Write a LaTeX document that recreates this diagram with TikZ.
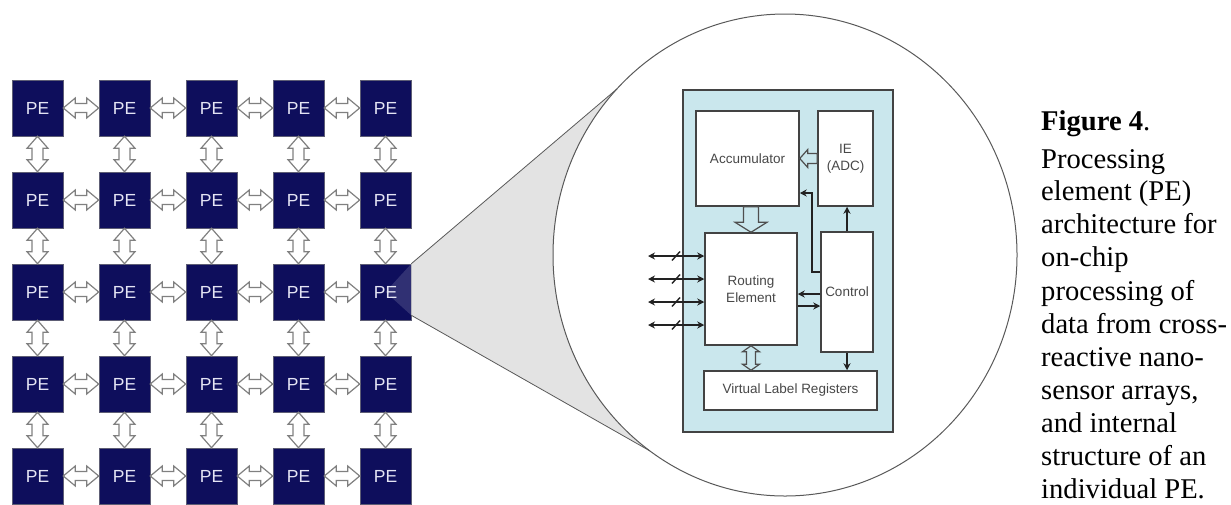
\documentclass[tikz,border=0pt]{standalone}
\usepackage{fontspec}
\setmainfont{Liberation Serif}
\newfontfamily\arialf{Liberation Sans}
\usetikzlibrary{calc,arrows.meta}
\definecolor{navy}{RGB}{14,14,92}
\definecolor{pelabel}{RGB}{228,228,244}
\definecolor{arrgray}{RGB}{128,128,128}
\definecolor{panelblue}{RGB}{202,231,237}
\definecolor{conegray}{RGB}{227,227,227}
\definecolor{inktext}{RGB}{72,72,72}
\definecolor{ink}{RGB}{34,34,34}
\tikzset{
  pe/.style={draw=arrgray!70!navy, line width=0.6pt, fill=navy, text=pelabel,
    minimum width=51pt, minimum height=56pt, inner sep=0pt,
    font=\arialf\fontsize{17.5pt}{17.5pt}\selectfont},
  hollow/.style={draw=arrgray, fill=white, line width=1.2pt, line join=miter},
  hollowin/.style={draw=ink!80, line width=1.2pt, line join=miter},
  panel/.style={draw=ink!85, line width=1.5pt, fill=panelblue, inner sep=0pt},
  inbox/.style={draw=ink!85, line width=1.5pt, fill=white, inner sep=0pt,
    text=inktext, align=center,
    font=\arialf\fontsize{13.5pt}{17.5pt}\selectfont},
  blk/.style={draw=ink, line width=1.7pt, -{Stealth[length=7pt,width=7pt]}},
  blk2/.style={draw=ink, line width=1.7pt, {Stealth[length=7pt,width=7pt]}-{Stealth[length=7pt,width=7pt]}},
  slashmark/.style={draw=ink, line width=1.4pt},
  capline/.style={anchor=base west, inner sep=0pt,
    font=\fontsize{28.6pt}{33pt}\selectfont}
}
% horizontal hollow double arrow: #1 left end, #2 right end, #3 head length, #4 head half width, #5 shaft half width
\newcommand\hdbl[6]{%
  \path[#6] let \p1=(#1), \p2=(#2) in (\x1,\y1) -- (\x1+#3,\y1+#4) -- (\x1+#3,\y1+#5)
   -- (\x2-#3,\y1+#5) -- (\x2-#3,\y1+#4) -- (\x2,\y1) -- (\x2-#3,\y1-#4) -- (\x2-#3,\y1-#5)
   -- (\x1+#3,\y1-#5) -- (\x1+#3,\y1-#4) -- cycle;}
% vertical hollow double arrow: #1 top end, #2 bottom end
\newcommand\vdbl[6]{%
  \path[#6] let \p1=(#1), \p2=(#2) in (\x1,\y1) -- (\x1+#4,\y1-#3) -- (\x1+#5,\y1-#3)
   -- (\x1+#5,\y2+#3) -- (\x1+#4,\y2+#3) -- (\x1,\y2) -- (\x1-#4,\y2+#3) -- (\x1-#5,\y2+#3)
   -- (\x1-#5,\y1-#3) -- (\x1-#4,\y1-#3) -- cycle;}
% horizontal hollow single arrow pointing left: #1 tail (right), #2 tip (left)
\newcommand\hsgl[6]{%
  \path[#6] let \p1=(#1), \p2=(#2) in (\x2,\y2) -- (\x2+#3,\y2+#4) -- (\x2+#3,\y2+#5)
   -- (\x1,\y2+#5) -- (\x1,\y2-#5) -- (\x2+#3,\y2-#5) -- (\x2+#3,\y2-#4) -- cycle;}
% vertical hollow single arrow pointing down: #1 tail (top), #2 tip (bottom)
\newcommand\vsgl[6]{%
  \path[#6] let \p1=(#1), \p2=(#2) in (\x2,\y2) -- (\x2+#4,\y2+#3) -- (\x2+#5,\y2+#3)
   -- (\x2+#5,\y1) -- (\x2-#5,\y1) -- (\x2-#5,\y2+#3) -- (\x2-#4,\y2+#3) -- cycle;}

\begin{document}
\begin{tikzpicture}[x=1pt,y=-1pt]
\useasboundingbox (0,0) rectangle (1231,504);

% ---------- PE grid ----------
\foreach \r in {1,...,5} {
  \foreach \c in {1,...,5} {
    \pgfmathsetmacro\cx{37.5+87*(\c-1)}
    \pgfmathsetmacro\cy{108+92*(\r-1)}
    \node[pe] (p\r\c) at (\cx,\cy) {PE};
  }
}

% ---------- magnifier cone ----------
\coordinate (ctop) at (617,88.9);
\coordinate (cbot) at (649.9,450.9);
\coordinate (apexT) at (p35.north east);
\coordinate (apexB) at ($(p35.south east)+(0,-5)$);
\fill[conegray] (apexT) -- (ctop) arc[start angle=136.4, end angle=234.4, x radius=232pt, y radius=241pt]
   -- (apexB) -- cycle;
\fill[white, opacity=0.14] (p35.center) -- (apexT) -- (apexB) -- cycle;
\draw[black!65, line width=0.8pt] (apexT) -- (ctop);
\draw[black!65, line width=0.8pt] (apexB) -- (cbot);
\draw[black!65, line width=1pt] (785,255) ellipse [x radius=232pt, y radius=241pt];

% ---------- grid links ----------
\foreach \r in {1,...,5} {
  \foreach \c in {1,...,4} {
    \pgfmathtruncatemacro\cn{\c+1}
    \hdbl{p\r\c.east}{p\r\cn.west}{12pt}{10pt}{4.5pt}{hollow}
  }
}
\foreach \r in {1,...,4} {
  \foreach \c in {1,...,5} {
    \pgfmathtruncatemacro\rn{\r+1}
    \vdbl{p\r\c.south}{p\rn\c.north}{12pt}{10.5pt}{5.5pt}{hollow}
  }
}

% ---------- PE internal structure ----------
\node[panel, minimum width=210pt, minimum height=342pt] (bg) at (788,261) {};
\node[inbox, minimum width=103pt, minimum height=95pt] (acc) at (747.5,158.5) {Accumulator};
\node[inbox, minimum width=55pt, minimum height=95pt] (ie) at (845.5,158.5) {IE\\(ADC)};
\node[inbox, minimum width=92pt, minimum height=112pt] (rout) at (751,289) {Routing\\Element};
\node[inbox, minimum width=52pt, minimum height=120pt] (ctrl) at (847,292) {Control};
\node[inbox, minimum width=173pt, minimum height=39pt] (vlr) at (790.5,390.5) {Virtual Label Registers};

% hollow arrows inside
\hsgl{ie.west}{acc.east}{8pt}{9pt}{5pt}{hollowin}
\vsgl{acc.south -| rout.north}{rout.north}{10pt}{16pt}{7.5pt}{hollowin}
\vdbl{rout.south}{rout.south |- vlr.north}{6pt}{8.5pt}{4.5pt}{hollowin}

% black arrows
\draw[blk] (ctrl.north) -- (ctrl.north |- ie.south);
\draw[blk] (ctrl.south) -- (ctrl.south |- vlr.north);
\coordinate (cl1) at ($(ctrl.west)+(0,2)$);
\coordinate (cl2) at ($(ctrl.west)+(0,14)$);
\draw[blk] (cl1) -- (cl1 -| rout.east);
\draw[blk] (cl2 -| rout.east) -- (cl2);
\coordinate (cfb) at ($(ctrl.west)+(0,-20)$);
\coordinate (bend) at (812,193);
\draw[blk] (cfb) -| (bend) -- (bend -| acc.east);

% external ports
\foreach \i/\yy in {1/256, 2/279, 3/302, 4/325} {
  \coordinate (e\i) at (648,\yy);
  \draw[blk2] (e\i) -- (e\i -| rout.west);
  \draw[slashmark] ($(e\i)+(24,4.5)$) -- ($(e\i)+(32,-4.5)$);
}

% ---------- caption ----------
\node[capline] (cap1) at (1041,130) {\textbf{Figure 4}.};
\node[capline] (cap2) at (1041,168) {Processing};
\node[capline] (cap3) at (1041,200) {element (PE)};
\node[capline] (cap4) at (1041,233) {architecture for};
\node[capline] (cap5) at (1041,266) {on-chip};
\node[capline] (cap6) at (1041,300) {processing of};
\node[capline] (cap7) at (1041,333) {data from cross-};
\node[capline] (cap8) at (1041,366) {reactive nano-};
\node[capline] (cap9) at (1041,399) {sensor arrays,};
\node[capline] (cap10) at (1041,432) {and internal};
\node[capline] (cap11) at (1041,465) {structure of an};
\node[capline] (cap12) at (1041,498) {individual PE.};
\end{tikzpicture}
\end{document}
